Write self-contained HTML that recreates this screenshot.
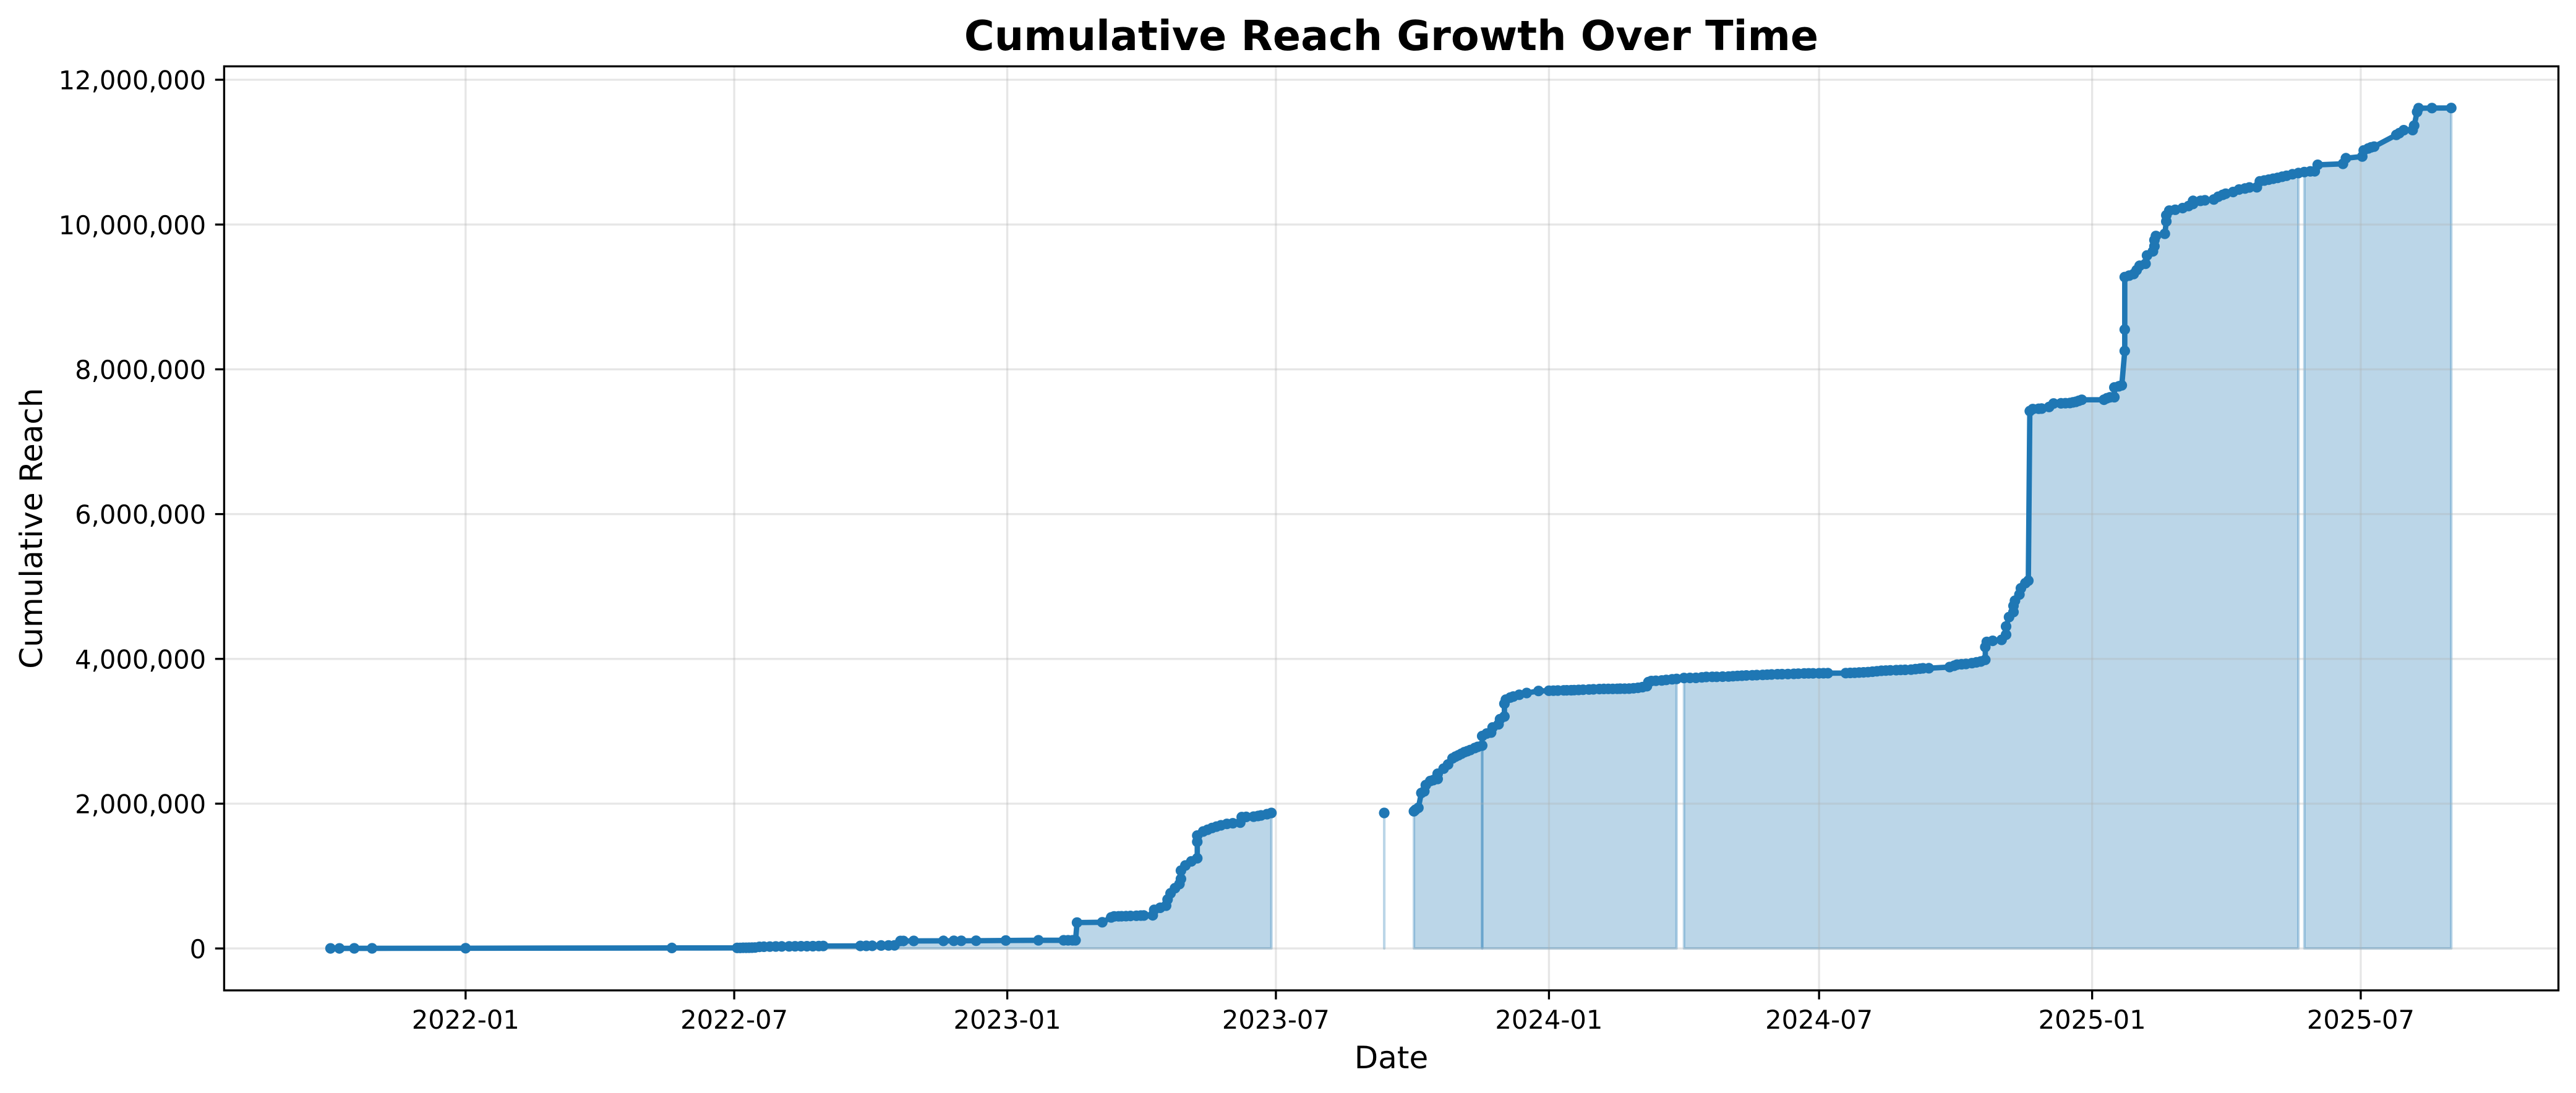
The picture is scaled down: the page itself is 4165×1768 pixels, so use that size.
<!DOCTYPE html>
<html lang="en">
<head>
<meta charset="utf-8">
<title>Cumulative Reach Growth Over Time</title>
<style>
  html, body { margin: 0; padding: 0; background: #ffffff; }
  body { width: 4165px; height: 1768px; overflow: hidden; }
  svg { display: block; }
  text { font-family: "DejaVu Sans", "Liberation Sans", sans-serif; fill: #000000; }
</style>
</head>
<body>
<svg id="chart" xmlns="http://www.w3.org/2000/svg" width="4165" height="1768" viewBox="0 0 4165 1768">
  <rect x="0" y="0" width="4165" height="1768" fill="#ffffff"/>
  <g id="fills"></g>
  <g id="grid"></g>
  <g id="lines"></g>
  <g id="points"></g>
  <rect x="362.4" y="107.3" width="3774.2" height="1494.7" fill="none" stroke="#000000" stroke-width="3.33"/>
  <g id="ticks"></g>
  <text x="2249.5" y="81" text-anchor="middle" font-size="66.67" font-weight="700">Cumulative Reach Growth Over Time</text>
  <text x="2249.5" y="1728" text-anchor="middle" font-size="50">Date</text>
  <text transform="translate(68 854.6) rotate(-90)" text-anchor="middle" font-size="50">Cumulative Reach</text>
</svg>
<script>
// Days since 2022-01-01 for every observation
const dayOffsets = [
  -91,-85,-75,-63,0,139,183,185,187,189,
  191,193,195,198,201,205,209,213,218,222,
  226,230,234,238,241,266,270,274,280,285,
  289,293,295,302,322,329,334,344,364,386,
  403,406,409,411,412,429,435,437,440,442,
  445,448,452,455,457,463,464,468,472,473,
  475,478,481,482,482,485,489,493,493,493,
  497,500,503,506,509,513,517,522,523,526,
  531,534,536,540,543,580,619,630,639,640,
  642,644,646,647,650,652,655,655,659,662,
  665,667,669,671,673,675,677,680,682,685,
  685,685,688,691,692,696,697,700,700,701,
  704,706,710,715,723,730,733,736,740,742,
  745,747,750,753,757,760,764,767,770,773,
  776,778,781,784,787,790,793,796,797,799,
  802,806,809,813,816,818,821,825,829,833,
  836,840,843,847,851,854,857,860,863,867,
  870,874,877,880,884,887,891,895,898,902,
  905,908,912,915,918,930,933,936,939,942,
  945,948,951,954,957,960,964,967,970,974,
  977,980,982,986,1000,1003,1005,1008,1011,1015,
  1018,1021,1024,1024,1025,1029,1035,1038,1038,1040,
  1043,1043,1044,1047,1048,1051,1053,1054,1056,1060,
  1062,1067,1070,1075,1078,1081,1083,1085,1087,1089,
  1104,1106,1108,1111,1111,1114,1116,1118,1118,1118,
  1121,1124,1126,1128,1132,1133,1137,1138,1138,1139,
  1145,1146,1146,1148,1152,1157,1161,1164,1164,1169,
  1172,1178,1181,1184,1186,1191,1195,1199,1202,1207,
  1209,1212,1215,1218,1221,1224,1227,1231,1235,1237,
  1239,1243,1246,1248,1265,1267,1278,1279,1282,1284,
  1286,1301,1303,1306,1312,1313,1315,1316,1325,1338
];
// Cumulative reach in thousands; null marks missing observations
const reachThousands = [
  1,1,2,2,3,7,8,8,9,9,
  10,11,13,22,24,26,27,28,29,30,
  31,31,32,33,34,35,36,37,41,42,
  43,103,103,104,105,106,106,107,110,113,
  113,113,113,113,358,362,429,443,444,445,
  447,449,452,454,455,458,534,562,591,676,
  762,833,890,961,1075,1146,1203,1246,1473,1559,
  1616,1640,1664,1683,1701,1721,1729,1738,1815,1817,
  1821,1830,1838,1855,1872,null,1872,null,1895,1915,
  1943,2148,2171,2257,2313,2325,2342,2413,2484,2541,
  2626,2650,2669,2690,2711,2725,2741,2769,2785,2803,
  null,2934,2968,2982,3053,3096,3167,3204,3381,3437,
  3466,3480,3505,3529,3557,3560,3561,3563,3565,3566,
  3567,3569,3571,3574,3577,3580,3583,3585,3586,3586,
  3587,3588,3588,3589,3594,3600,3610,3623,3680,3694,
  3698,3702,3710,3718,3723,null,3736,3737,3738,3745,
  3751,3752,3752,3755,3757,3761,3765,3768,3771,3774,
  3776,3779,3782,3785,3788,3789,3791,3793,3796,3799,
  3800,3800,3801,3802,3803,3804,3806,3808,3811,3814,
  3817,3823,3829,3836,3839,3842,3845,3847,3849,3851,
  3859,3865,3870,3871,3887,3905,3921,3926,3930,3941,
  3952,3964,3987,4163,4235,4249,4263,4334,4448,4577,
  4647,4733,4804,4889,4975,5046,5080,7423,7451,7455,
  7458,7480,7528,7530,7532,7535,7543,7551,7565,7579,
  7580,7600,7613,7615,7750,7765,7779,8254,8549,9274,
  9295,9316,9370,9430,9458,9573,9629,9700,9786,9842,
  9872,10043,10128,10192,10204,10227,10255,10284,10327,10327,
  10335,10346,10384,10410,10426,10449,10483,10498,10512,10515,
  10597,10608,10620,10633,10645,10660,10674,10695,10711,null,
  10725,10734,10735,10825,10839,10916,10939,11024,11050,11067,
  11076,11238,11262,11303,11305,11366,11556,11607,11609,11610
];
const xTickDays = [0, 181, 365, 546, 730, 912, 1096, 1277];
const xTickLabels = ["2022-01", "2022-07", "2023-01", "2023-07", "2024-01", "2024-07", "2025-01", "2025-07"];
const yTickValues = [0, 2000000, 4000000, 6000000, 8000000, 10000000, 12000000];

const SVG_NS = "http://www.w3.org/2000/svg";
const BLUE = "#1f77b4";
const PLOT_LEFT = 362.4;
const PLOT_RIGHT = 4136.6;
const PLOT_TOP = 107.3;
const PLOT_BOTTOM = 1602;

function xScale(day) { return 752.8 + day * 2.3995; }
function yScale(value) { return 1534.2 - value * 0.00011710; }

function make(tag, parent, attrs) {
  const el = document.createElementNS(SVG_NS, tag);
  for (const key in attrs) el.setAttribute(key, attrs[key]);
  parent.appendChild(el);
  return el;
}

const fillsLayer = document.getElementById("fills");
const gridLayer = document.getElementById("grid");
const linesLayer = document.getElementById("lines");
const pointsLayer = document.getElementById("points");
const ticksLayer = document.getElementById("ticks");

// Break the series into runs of consecutive observations
const segments = [];
let run = [];
dayOffsets.forEach(function (day, i) {
  const k = reachThousands[i];
  if (k === null) {
    if (run.length) segments.push(run);
    run = [];
  } else {
    run.push([xScale(day), yScale(k * 1000)]);
  }
});
if (run.length) segments.push(run);

const baseY = yScale(0);
segments.forEach(function (seg) {
  const first = seg[0];
  const last = seg[seg.length - 1];
  const outline = [[first[0], baseY]].concat(seg, [[last[0], baseY]]);
  const pointsAttr = outline.map(function (p) { return p[0].toFixed(1) + "," + p[1].toFixed(1); }).join(" ");
  const area = make("polygon", fillsLayer, { points: pointsAttr, fill: BLUE, "fill-opacity": 0.3, stroke: BLUE, "stroke-opacity": 0.3, "stroke-width": 4.17, "stroke-linejoin": "round" });
  
  

  if (seg.length > 1) {
    const linePoints = seg.map(function (p) { return p[0].toFixed(1) + "," + p[1].toFixed(1); }).join(" ");
    const line = make("polyline", linesLayer, { points: linePoints, fill: "none", stroke: BLUE, "stroke-width": 8.7, "stroke-linejoin": "round", "stroke-linecap": "butt" });
    
    
  }
  seg.forEach(function (p) {
    const dot = make("circle", pointsLayer, { cx: p[0].toFixed(1), cy: p[1].toFixed(1), r: 8.6, fill: BLUE });
    
    
  });
});

xTickDays.forEach(function (day, i) {
  const x = xScale(day);
  const gridLine = make("line", gridLayer, { x1: x, x2: x, y1: PLOT_TOP, y2: PLOT_BOTTOM, stroke: "#b0b0b0", "stroke-width": 3.33, opacity: 0.3 });
  
  
  const tick = make("line", ticksLayer, { x1: x, x2: x, y1: PLOT_BOTTOM, y2: PLOT_BOTTOM + 14.6, stroke: "#000000", "stroke-width": 3.33 });
  
  
  const label = make("text", ticksLayer, { x: x, y: 1664, "text-anchor": "middle", "font-size": 41.67 });
  
  
  label.textContent = xTickLabels[i];
});

yTickValues.forEach(function (value) {
  const y = yScale(value);
  const gridLine = make("line", gridLayer, { x1: PLOT_LEFT, x2: PLOT_RIGHT, y1: y, y2: y, stroke: "#b0b0b0", "stroke-width": 3.33, opacity: 0.3 });
  
  
  const tick = make("line", ticksLayer, { x1: PLOT_LEFT - 14.6, x2: PLOT_LEFT, y1: y, y2: y, stroke: "#000000", "stroke-width": 3.33 });
  
  
  const label = make("text", ticksLayer, { x: 333.2, y: y + 15.6, "text-anchor": "end", "font-size": 41.67 });
  
  
  label.textContent = value.toLocaleString("en-US");
});
</script>
</body>
</html>
